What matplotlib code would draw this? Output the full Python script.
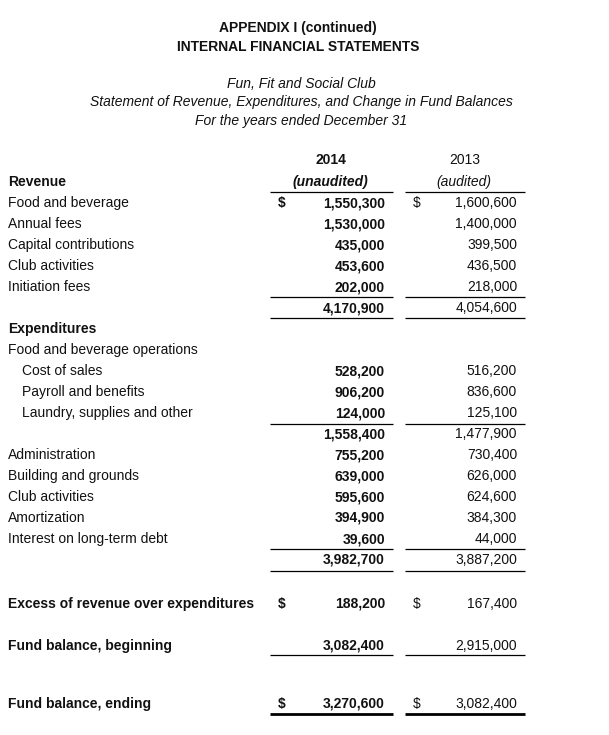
import matplotlib
matplotlib.use("Agg")
import matplotlib.pyplot as plt

plt.rcParams['font.family'] = ['Liberation Sans', 'DejaVu Sans']

title_lines = ["APPENDIX I (continued)", "INTERNAL FINANCIAL STATEMENTS"]
subtitle_lines = ["Fun, Fit and Social Club",
                  "Statement of Revenue, Expenditures, and Change in Fund Balances",
                  "For the years ended December 31"]
years = ["2014", "2013"]
audit_notes = ["(unaudited)", "(audited)"]

revenue_labels = ["Food and beverage", "Annual fees", "Capital contributions",
                  "Club activities", "Initiation fees"]
revenue_2014 = [1550300, 1530000, 435000, 453600, 202000]
revenue_2013 = [1600600, 1400000, 399500, 436500, 218000]
revenue_total = [4170900, 4054600]

fb_labels = ["Cost of sales", "Payroll and benefits", "Laundry, supplies and other"]
fb_2014 = [528200, 906200, 124000]
fb_2013 = [516200, 836600, 125100]
fb_total = [1558400, 1477900]

other_labels = ["Administration", "Building and grounds", "Club activities",
                "Amortization", "Interest on long-term debt"]
other_2014 = [755200, 639000, 595600, 394900, 39600]
other_2013 = [730400, 626000, 624600, 384300, 44000]
exp_total = [3982700, 3887200]

summary_labels = ["Excess of revenue over expenditures", "Fund balance, beginning",
                  "Fund balance, ending"]
summary_2014 = [188200, 3082400, 3270600]
summary_2013 = [167400, 2915000, 3082400]

fig = plt.figure(figsize=(6.09, 7.35), dpi=100)
ax = fig.add_axes([0, 0, 1, 1])
ax.set_xlim(0, 609)
ax.set_ylim(735, 0)
ax.axis('off')

fs = 10
col = '#111111'
dy = 5  # baseline sits ~5px below the cap centre
x_lab, x_ind = 8, 22
x_d1, x_v1 = 282, 385
x_d2, x_v2 = 417, 517
line1 = (270, 393)
line2 = (405, 525)


def txt(x, y, s, ha='left', bold=False, italic=False):
    ax.text(x, y + dy, s, fontsize=fs, color=col, va='baseline', ha=ha,
            fontweight='bold' if bold else 'normal',
            style='italic' if italic else 'normal')


def values(y, v14, v13, dollar=False):
    txt(x_v1, y, f"{v14:,}", ha='right', bold=True)
    txt(x_v2, y, f"{v13:,}", ha='right')
    if dollar:
        txt(x_d1, y, "$", ha='center', bold=True)
        txt(x_d2, y, "$", ha='center')


def rule(y, lw=0.9):
    for a, b in (line1, line2):
        ax.plot([a, b], [y, y], color='black', lw=lw, solid_capstyle='butt')


# header
for y, s in zip([27, 46], title_lines):
    txt(298, y, s, ha='center', bold=True)
for y, s in zip([83, 101, 120], subtitle_lines):
    txt(301, y, s, ha='center', italic=True)

txt(331, 159, years[0], ha='center', bold=True)
txt(465, 159, years[1], ha='center')
txt(330, 181, audit_notes[0], ha='center', bold=True, italic=True)
txt(464, 181, audit_notes[1], ha='center', italic=True)
rule(192)

step = 21
y0 = 202
txt(x_lab, 181, "Revenue", bold=True)
for i, (s, a, b) in enumerate(zip(revenue_labels, revenue_2014, revenue_2013)):
    txt(x_lab, y0 + i * step, s)
    values(y0 + i * step, a, b, dollar=(i == 0))
rule(297)
values(y0 + 5 * step, *revenue_total)
rule(318)

txt(x_lab, y0 + 6 * step, "Expenditures", bold=True)
txt(x_lab, y0 + 7 * step, "Food and beverage operations")
for i, (s, a, b) in enumerate(zip(fb_labels, fb_2014, fb_2013)):
    txt(x_ind, y0 + (8 + i) * step, s)
    values(y0 + (8 + i) * step, a, b)
rule(424)
values(y0 + 11 * step, *fb_total)
for i, (s, a, b) in enumerate(zip(other_labels, other_2014, other_2013)):
    txt(x_lab, y0 + (12 + i) * step, s)
    values(y0 + (12 + i) * step, a, b)
rule(549)
values(y0 + 17 * step, *exp_total)
rule(571)

sy = [603, 645, 703]
for i, (s, a, b) in enumerate(zip(summary_labels, summary_2014, summary_2013)):
    txt(x_lab, sy[i], s, bold=True)
    values(sy[i], a, b, dollar=(i != 1))
rule(655)
rule(714, lw=2.0)

fig.savefig("out.png", dpi=100, facecolor='white')
